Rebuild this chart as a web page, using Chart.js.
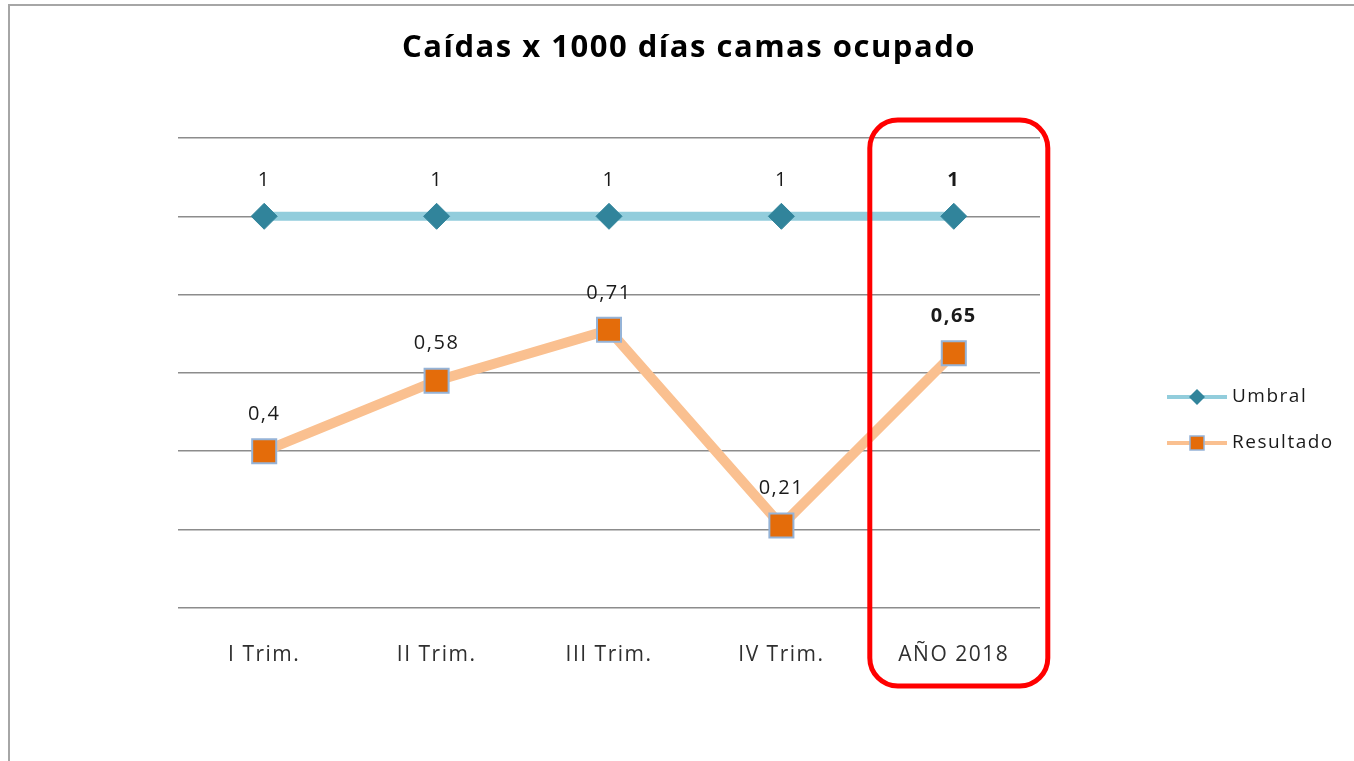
<!DOCTYPE html>
<html lang="es">
<head>
  <meta charset="UTF-8" />
  <title>Caídas x 1000 días camas ocupado</title>
  <script src="https://cdn.jsdelivr.net/npm/chart.js"></script>
  <style>
    body { margin: 0; background: #fff; }
    #wrap { width: 1354px; height: 761px; }
  </style>
</head>
<body>
  <div id="wrap"><canvas id="chart" width="1354" height="761"></canvas></div>

  <script>
    const categories = ['I Trim.', 'II Trim.', 'III Trim.', 'IV Trim.', 'AÑO 2018'];
    const umbral = [1, 1, 1, 1, 1];
    const resultado = [0.4, 0.58, 0.71, 0.21, 0.65];
    const umbralLabels = ['1', '1', '1', '1', '1'];
    const resultadoLabels = ['0,4', '0,58', '0,71', '0,21', '0,65'];
    const titleText = 'Caídas x 1000 días camas ocupado';

    const FONT = '"Open Sans", sans-serif';
    const SPACING = '1.5px';

    // frame + title; a bit of letter spacing since the original text is rendered wide
    const framePlugin = {
      id: 'frame',
      beforeLayout(chart) {
        chart.ctx.letterSpacing = SPACING;
      },
      beforeDraw(chart) {
        const ctx = chart.ctx;
        ctx.letterSpacing = SPACING;
        ctx.save();
        ctx.strokeStyle = '#a6a6a6';
        ctx.lineWidth = 2;
        ctx.strokeRect(9, 5, 2000, 2000);
        ctx.fillStyle = '#000';
        ctx.font = 'bold 31px ' + FONT;
        ctx.letterSpacing = '1.5px';
        ctx.textAlign = 'center';
        ctx.textBaseline = 'middle';
        ctx.fillText(titleText, 689, 48);
        ctx.restore();
      }
    };

    // value labels above each point
    const labelPlugin = {
      id: 'valueLabels',
      afterDatasetsDraw(chart) {
        const ctx = chart.ctx;
        const sets = [umbralLabels, resultadoLabels];
        ctx.save();
        ctx.textAlign = 'center';
        ctx.textBaseline = 'middle';
        ctx.fillStyle = '#1a1a1a';
        sets.forEach((labels, di) => {
          const meta = chart.getDatasetMeta(di);
          meta.data.forEach((pt, i) => {
            const last = i === labels.length - 1;
            ctx.font = (last ? 'bold ' : '') + '20px ' + FONT;
            const off = di === 0 ? 36 : 37;
            ctx.fillText(labels[i], pt.x, pt.y - off);
          });
        });
        ctx.restore();
      }
    };

    // red rounded box around the year total + legend on the right
    const extrasPlugin = {
      id: 'extras',
      afterDraw(chart) {
        const ctx = chart.ctx;
        const x = chart.scales.x;
        const cx = x.getPixelForValue(4);
        ctx.save();
        ctx.strokeStyle = '#ff0000';
        ctx.lineWidth = 5;
        ctx.beginPath();
        ctx.roundRect(cx - 84, 120, 178, 566, 28);
        ctx.stroke();

        // legend
        const items = chart.data.datasets;
        items.forEach((ds, i) => {
          const y = 397 + i * 46;
          ctx.strokeStyle = ds.borderColor;
          ctx.lineWidth = 4;
          ctx.beginPath();
          ctx.moveTo(1167, y);
          ctx.lineTo(1227, y);
          ctx.stroke();
          ctx.fillStyle = ds.pointBackgroundColor;
          if (ds.pointStyle === 'rectRot') {
            ctx.beginPath();
            ctx.moveTo(1197, y - 8);
            ctx.lineTo(1205, y);
            ctx.lineTo(1197, y + 8);
            ctx.lineTo(1189, y);
            ctx.closePath();
            ctx.fill();
          } else {
            ctx.fillRect(1190, y - 7, 14, 14);
            ctx.strokeStyle = ds.pointBorderColor;
            ctx.lineWidth = 1.5;
            ctx.strokeRect(1190, y - 7, 14, 14);
          }
          ctx.fillStyle = '#1a1a1a';
          ctx.font = '19px ' + FONT;
          ctx.textAlign = 'left';
          ctx.textBaseline = 'middle';
          ctx.fillText(ds.label, 1232, y);
        });
        ctx.restore();
      }
    };

    new Chart(document.getElementById('chart'), {
      type: 'line',
      data: {
        labels: categories,
        datasets: [
          {
            label: 'Umbral',
            data: umbral,
            borderColor: '#92cddc',
            borderWidth: 9,
            pointStyle: 'rectRot',
            pointRadius: 13,
            pointHoverRadius: 13,
            pointBackgroundColor: '#31849b',
            pointBorderColor: '#31849b',
            pointBorderWidth: 1,
            tension: 0
          },
          {
            label: 'Resultado',
            data: resultado,
            borderColor: '#fac090',
            borderWidth: 10,
            pointStyle: 'rect',
            pointRadius: 17,
            pointHoverRadius: 17,
            pointBackgroundColor: '#e46c0a',
            pointBorderColor: '#95b3d7',
            pointBorderWidth: 2,
            tension: 0
          }
        ]
      },
      options: {
        responsive: false,
        animation: false,
        layout: { padding: { left: 178, right: 314, top: 138, bottom: 66 } },
        plugins: {
          legend: { display: false },
          tooltip: { enabled: false },
          title: { display: false }
        },
        scales: {
          x: {
            offset: true,
            grid: { display: false },
            border: { display: false },
            ticks: { color: '#2f2f2f', font: { family: FONT, size: 21 }, padding: 27 }
          },
          y: {
            min: 0,
            max: 1.2,
            ticks: { display: false, stepSize: 0.2 },
            border: { display: false },
            grid: { color: '#8c8c8c', lineWidth: 1.5, drawTicks: false },
            afterFit(s) { s.width = 0; }
          }
        }
      },
      plugins: [framePlugin, labelPlugin, extrasPlugin]
    });
  </script>
</body>
</html>
